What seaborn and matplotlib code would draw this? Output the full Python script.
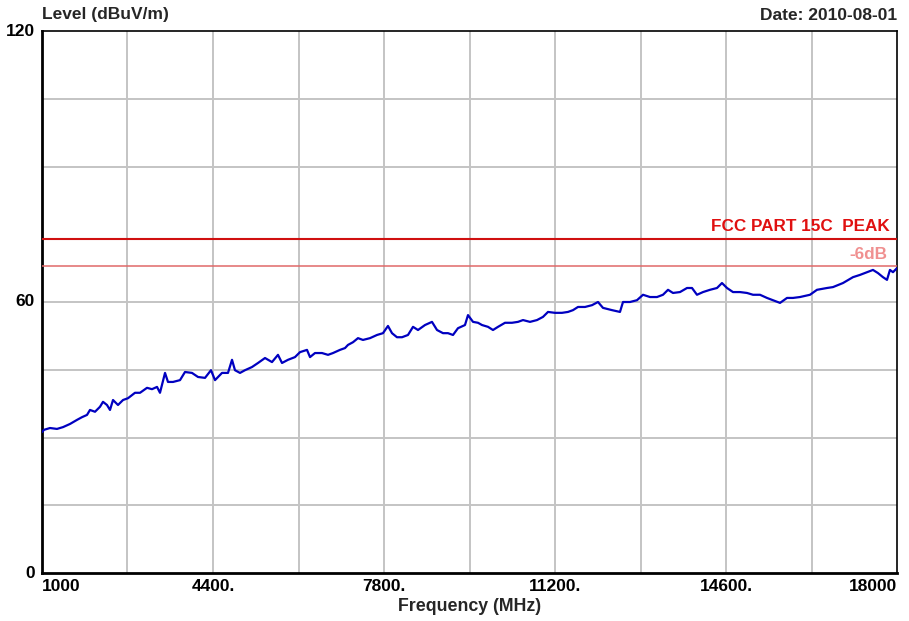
import matplotlib
matplotlib.use("Agg")
import matplotlib.pyplot as plt
import seaborn as sns
import pandas as pd

# Measured radiated emission trace
freq_mhz = [1000, 1040, 1159, 1298, 1418, 1557, 1696, 1795, 1895, 1954, 2054, 2153, 2213, 2292,
            2352, 2412, 2511, 2611, 2710, 2849, 2949, 3088, 3187, 3287, 3346, 3446, 3505, 3605,
            3744, 3843, 3982, 4102, 4241, 4360, 4440, 4579, 4698, 4778, 4837, 4937, 5036, 5175,
            5295, 5434, 5573, 5692, 5772, 5891, 6030, 6130, 6269, 6329, 6428, 6567, 6687, 6786,
            6925, 7025, 7084, 7184, 7283, 7382, 7522, 7661, 7780, 7879, 7959, 8058, 8158, 8277,
            8377, 8476, 8615, 8754, 8854, 8973, 9072, 9172, 9271, 9410, 9470, 9570, 9669, 9749,
            9868, 9967, 10067, 10206, 10345, 10464, 10564, 10703, 10842, 10961, 11061, 11200,
            11339, 11458, 11558, 11657, 11797, 11936, 12055, 12154, 12333, 12492, 12552, 12592,
            12691, 12830, 12950, 13089, 13228, 13347, 13447, 13546, 13685, 13825, 13924, 14023,
            14143, 14282, 14421, 14520, 14620, 14739, 14878, 15018, 15137, 15276, 15415, 15535,
            15674, 15813, 15932, 16071, 16270, 16409, 16608, 16727, 16926, 17125, 17264, 17403,
            17522, 17622, 17721, 17801, 17860, 17920, 18000]
level_dbuv = [31.2, 31.7, 32.1, 31.9, 32.3, 33.0, 33.9, 34.5, 35.0, 36.1, 35.7, 36.8, 37.9, 37.2,
              36.1, 38.3, 37.2, 38.3, 38.7, 39.9, 39.9, 41.0, 40.7, 41.2, 39.9, 44.3, 42.3, 42.3,
              42.7, 44.5, 44.3, 43.4, 43.2, 44.9, 42.7, 44.3, 44.3, 47.2, 44.9, 44.3, 44.9, 45.6,
              46.5, 47.6, 46.7, 48.3, 46.5, 47.2, 47.8, 48.9, 49.4, 47.8, 48.7, 48.7, 48.3, 48.7,
              49.4, 49.8, 50.5, 51.1, 52.0, 51.6, 52.0, 52.7, 53.1, 54.7, 53.1, 52.2, 52.2, 52.7,
              54.5, 53.8, 54.9, 55.6, 53.8, 53.1, 53.1, 52.7, 54.2, 54.9, 57.1, 55.6, 55.4, 54.9,
              54.5, 53.8, 54.5, 55.4, 55.4, 55.6, 56.0, 55.6, 56.0, 56.7, 57.8, 57.6,
              57.6, 57.8, 58.2, 58.9, 58.9, 59.3, 60.0, 58.7, 58.2, 57.8, 60.0, 60.0,
              60.0, 60.4, 61.6, 61.1, 61.1, 61.6, 62.7, 62.0, 62.2, 63.1, 63.1, 61.6,
              62.2, 62.7, 63.1, 64.2, 63.1, 62.2, 62.2, 62.0, 61.6, 61.6, 60.9, 60.4,
              59.8, 60.9, 60.9, 61.1, 61.6, 62.7, 63.1, 63.3, 64.2, 65.5, 66.0, 66.6,
              67.1, 66.4, 65.5, 64.9, 67.1, 66.6, 67.5]

# Limit lines
limit_peak = 74.0
limit_margin = 68.0
limit_peak_label = "FCC PART 15C  PEAK"
limit_margin_label = "-6dB"

# Axis ranges and labels
x_min, x_max, x_step = 1000, 18000, 1700
y_min, y_max, y_step = 0, 120, 15
x_tick_values = [1000, 4400, 7800, 11200, 14600, 18000]
x_tick_labels = ["1000", "4400.", "7800.", "11200.", "14600.", "18000"]
y_tick_values = [0, 60, 120]
y_tick_labels = ["0", "60", "120"]

sns.set_theme(style="white")
plt.rcParams["font.family"] = ["Liberation Sans", "DejaVu Sans"]

fig = plt.figure(figsize=(9.09, 6.21), dpi=100)
ax = fig.add_axes([42 / 909, 48 / 621, 855 / 909, 542 / 621])

df = pd.DataFrame({"Frequency (MHz)": freq_mhz, "Level": level_dbuv})
sns.lineplot(data=df, x="Frequency (MHz)", y="Level", ax=ax, color="#0000c0",
             linewidth=1.6, zorder=4)

ax.axhline(limit_peak, color="#d01010", linewidth=1.5, zorder=3)
ax.axhline(limit_margin, color="#e06868", linewidth=1.1, zorder=3)
ax.text(x_max - 140, limit_peak + 1.0, limit_peak_label, color="#e01010",
        fontsize=12.3, fontweight="bold", ha="right", va="bottom")
ax.text(x_max - 200, limit_margin + 0.8, limit_margin_label, color="#f09090",
        fontsize=12.3, fontweight="bold", ha="right", va="bottom")

ax.set_xlim(x_min, x_max)
ax.set_ylim(y_min, y_max)

# Grid lines at every division (the one next to the limit line is left out)
for gx in range(x_min + x_step, x_max, x_step):
    ax.axvline(gx, color="#c4c4c4", linewidth=1.4, zorder=1)
for gy in range(y_min + y_step, y_max, y_step):
    if abs(gy - limit_peak) > 3:
        ax.axhline(gy, color="#c4c4c4", linewidth=1.4, zorder=1)

ax.set_xticks(x_tick_values)
ax.set_xticklabels(x_tick_labels, fontsize=12.5, fontweight="bold")
ax.set_yticks(y_tick_values)
ax.set_yticklabels(y_tick_labels, fontsize=12.5, fontweight="bold")
ax.tick_params(axis="x", length=0, pad=4, colors="black")
ax.tick_params(axis="y", length=0, pad=5, colors="black")
xl = ax.get_xticklabels()
xl[0].set_ha("left")
xl[-1].set_ha("right")
for lbl in ax.get_yticklabels():
    lbl.set_va("center")

ax.set_xlabel("Frequency (MHz)", fontsize=12.8, fontweight="bold", labelpad=3)
ax.set_ylabel("")

for side in ["top", "right"]:
    ax.spines[side].set_linewidth(1.2)
    ax.spines[side].set_color("black")
for side in ["left", "bottom"]:
    ax.spines[side].set_linewidth(2.0)
    ax.spines[side].set_color("black")

fig.text(42 / 909, 1 - 14 / 621, "Level (dBuV/m)", fontsize=12.5, fontweight="bold",
         ha="left", va="center")
fig.text(897 / 909, 1 - 16 / 621, "Date: 2010-08-01", fontsize=12.5, fontweight="bold",
         ha="right", va="center")

fig.savefig("out.png", dpi=100, facecolor="white")
